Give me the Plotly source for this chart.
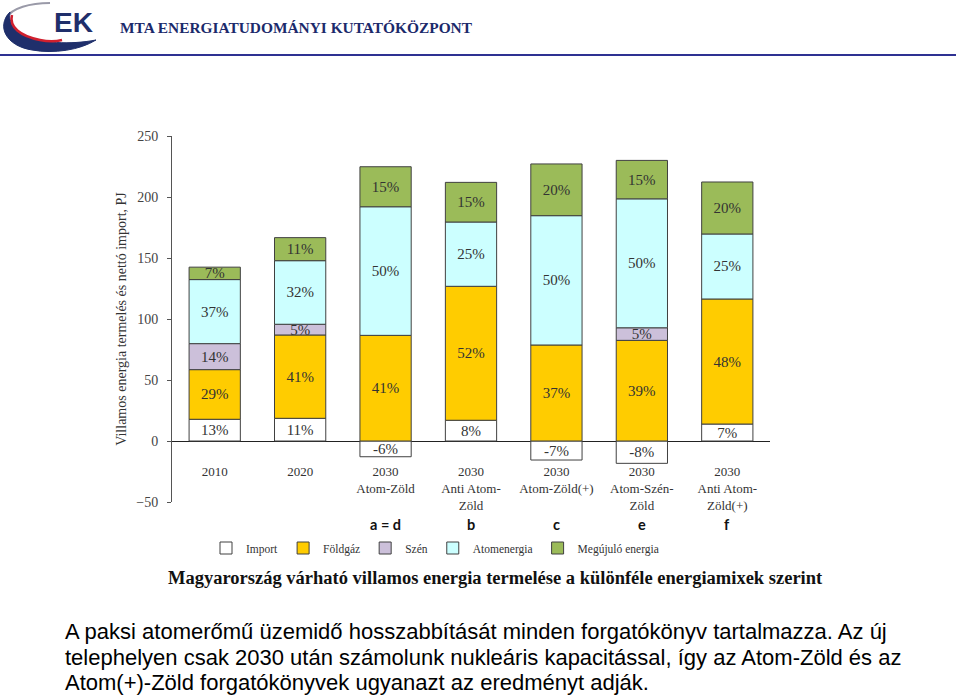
import plotly.graph_objects as go

# ---------------- data ----------------
categories = ["2010", "2020", "2030<br>Atom-Zöld", "2030<br>Anti Atom-<br>Zöld",
              "2030<br>Atom-Zöld(+)", "2030<br>Atom-Szén-<br>Zöld", "2030<br>Anti Atom-<br>Zöld(+)"]
scenario_codes = ["", "", "a = d", "b", "c", "e", "f"]

series_names = ["Import", "Földgáz", "Szén", "Atomenergia", "Megújuló energia"]
import_vals = [17.8, 18.6, -12.9, 17.0, -15.6, -18.3, 13.9]
foldgaz_vals = [40.7, 68.3, 86.6, 109.8, 78.7, 82.5, 102.5]
szen_vals = [21.3, 8.8, None, None, None, 10.3, None]
atom_vals = [52.5, 52.1, 105.4, 52.7, 106.0, 105.7, 53.3]
megujulo_vals = [10.2, 18.9, 32.8, 32.5, 42.4, 31.5, 42.6]

import_pct = ["13%", "11%", "-6%", "8%", "-7%", "-8%", "7%"]
foldgaz_pct = ["29%", "41%", "41%", "52%", "37%", "39%", "48%"]
szen_pct = ["14%", "5%", "", "", "", "5%", ""]
atom_pct = ["37%", "32%", "50%", "25%", "50%", "50%", "25%"]
megujulo_pct = ["7%", "11%", "15%", "15%", "20%", "15%", "20%"]

y_ticks = [-50, 0, 50, 100, 150, 200, 250]

body_lines = [
    "A paksi atomerőmű üzemidő hosszabbítását minden forgatókönyv tartalmazza. Az új",
    "telephelyen csak 2030 után számolunk nukleáris kapacitással, így az Atom-Zöld és az",
    "Atom(+)-Zöld forgatókönyvek ugyanazt az eredményt adják.",
]

# ---------------- styling ----------------
colors = ["#FFFFFF", "#FFCC00", "#CCC0DA", "#CCFFFF", "#9BBB59"]
SERIF = "Liberation Serif"

W, H = 960, 697
ML, MR, MT, MB = 172, 190, 136, 195
PW, PH = W - ML - MR, H - MT - MB


def px(x):
    return (x - ML) / PW


def py(y):
    return (H - MB - y) / PH


fig = go.Figure()
all_vals = [import_vals, foldgaz_vals, szen_vals, atom_vals, megujulo_vals]
all_pct = [import_pct, foldgaz_pct, szen_pct, atom_pct, megujulo_pct]
for name, vals, pct, col in zip(series_names, all_vals, all_pct, colors):
    fig.add_trace(go.Bar(
        x=categories, y=vals, name=name, text=pct,
        marker=dict(color=col, line=dict(color="#404040", width=1)),
        textposition="inside", insidetextanchor="middle", textangle=0,
        constraintext="none",
        insidetextfont=dict(family=SERIF, size=15, color="#333333"),
        hoverinfo="name+y",
    ))

fig.update_layout(
    width=W, height=H,
    margin=dict(l=ML, r=MR, t=MT, b=MB, autoexpand=False),
    paper_bgcolor="white", plot_bgcolor="white",
    barmode="relative", bargap=0.4,
    font=dict(family=SERIF, size=13, color="#333333"),
    showlegend=True,
    legend=dict(orientation="h", x=px(435), xanchor="center", y=py(548), yanchor="middle",
                font=dict(family=SERIF, size=11.5, color="#333333"),
                itemwidth=30, tracegroupgap=0, bgcolor="rgba(0,0,0,0)"),
    xaxis=dict(anchor="free", position=py(441), showline=False, ticks="",
               showgrid=False, zeroline=False, ticklabelstandoff=21,
               tickfont=dict(family=SERIF, size=13, color="#333333"),
               range=[-0.5, 6.5]),
    yaxis=dict(range=[-50, 250], tickvals=y_ticks, showgrid=False,
               showline=True, linecolor="#555555", linewidth=1,
               ticks="outside", ticklen=4, tickcolor="#555555",
               ticklabelstandoff=6,
               zeroline=True, zerolinecolor="#222222", zerolinewidth=1,
               tickfont=dict(family=SERIF, size=14, color="#444444"),
               title=dict(text="Villamos energia termelés és nettó import, PJ",
                          font=dict(family=SERIF, size=14, color="#333333"),
                          standoff=6)),
)

# scenario letters under the categories
for cat, code in zip(categories, scenario_codes):
    if code:
        fig.add_annotation(x=cat, y=py(524), xref="x", yref="paper", yanchor="middle",
                           text=code, showarrow=False, borderpad=0,
                           font=dict(family="Lato", size=14.5, color="#111111", weight="bold"))

# chart caption
fig.add_annotation(x=px(495), y=py(578), xref="paper", yref="paper",
                   xanchor="center", yanchor="middle",
                   text="<b>Magyarország várható villamos energia termelése a különféle energiamixek szerint</b>",
                   showarrow=False, font=dict(family=SERIF, size=18.5, color="#111111"))

# slide body text
for line, yc in zip(body_lines, [631, 657, 682]):
    fig.add_annotation(x=px(64), y=py(yc), xref="paper", yref="paper", xanchor="left", yanchor="middle",
                       align="left", text=line, showarrow=False, borderpad=0,
                       font=dict(family="Liberation Sans", size=22, color="#000000"))

# header
fig.add_annotation(x=px(118), y=py(28), xref="paper", yref="paper", xanchor="left", yanchor="middle",
                   text="<b>MTA ENERGIATUDOMÁNYI KUTATÓKÖZPONT</b>", showarrow=False,
                   font=dict(family=SERIF, size=15.4, color="#1B2A6B"))
fig.add_shape(type="line", xref="paper", yref="paper", x0=px(0), x1=px(956), y0=py(55), y1=py(55),
              line=dict(color="#2E3192", width=2))


def path(points_cmds):
    out = []
    for cmd, pts in points_cmds:
        s = cmd
        s += " ".join(f"{px(a):.4f},{py(b):.4f}" for a, b in pts)
        out.append(s)
    return " ".join(out)


logo_gray = path([
    ("M", [(50, 3)]),
    ("C", [(30, 3), (12, 8), (6, 18)]),
])
fig.add_shape(type="path", xref="paper", yref="paper", path=logo_gray,
              line=dict(color="#9A9AA8", width=2))
logo_crescent = path([
    ("M", [(10, 12)]),
    ("C", [(-4, 26), (6, 46), (32, 50)]),
    ("C", [(54, 54), (80, 50), (96, 40)]),
    ("C", [(70, 45), (40, 43), (26, 36)]),
    ("C", [(14, 30), (8, 22), (10, 12)]),
    ("Z", []),
])
fig.add_shape(type="path", xref="paper", yref="paper", path=logo_crescent,
              fillcolor="#1F2F6B", line=dict(color="#1F2F6B", width=1))
logo_red = path([
    ("M", [(12, 15)]),
    ("C", [(9, 27), (20, 36), (40, 40)]),
    ("C", [(50, 42), (58, 41), (62, 40)]),
])
fig.add_shape(type="path", xref="paper", yref="paper", path=logo_red,
              line=dict(color="#D0202E", width=2.5))
fig.add_annotation(x=px(73), y=py(22), xref="paper", yref="paper",
                   xanchor="center", yanchor="middle",
                   text="<b>EK</b>", showarrow=False,
                   font=dict(family="Liberation Sans", size=28, color="#1F2F6B"))

fig.write_html("out.html", config={"displayModeBar": False},
               post_script="document.body.style.margin='0';")
